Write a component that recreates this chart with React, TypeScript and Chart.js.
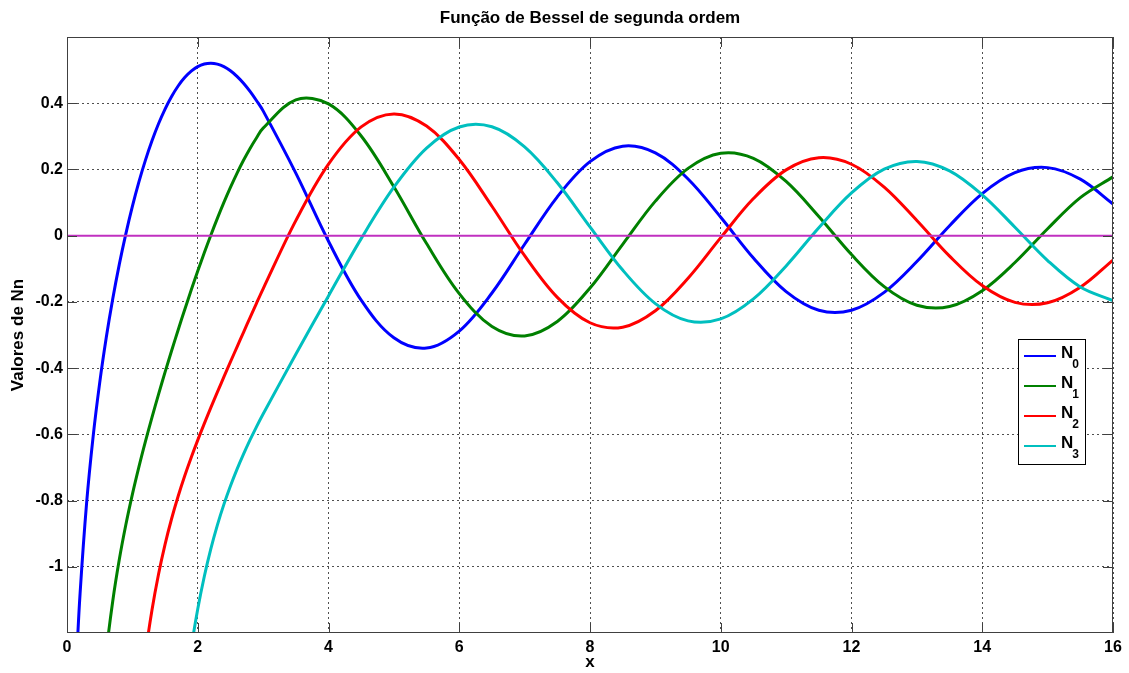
import React, { useEffect, useRef } from "react";
import { Chart, registerables } from "chart.js";

Chart.register(...registerables);

// Sample positions along x (finer where the curves are steep)
const X_VALUES = [
  0.1, 0.15, 0.2, 0.3, 0.4, 0.5, 0.6, 0.7, 0.8, 0.9, 1.0,
  1.1, 1.2, 1.3, 1.4, 1.5, 1.6, 1.7, 1.8, 1.9, 2.0,
  2.1, 2.2, 2.3, 2.4, 2.5, 2.6, 2.7, 2.8, 2.9, 3.0,
  3.5, 4.0, 4.5, 5.0, 5.5, 6.0, 6.5, 7.0, 7.5, 8.0, 8.5, 9.0, 9.5, 10.0,
  10.5, 11.0, 11.5, 12.0, 12.5, 13.0, 13.5, 14.0, 14.5, 15.0, 15.5, 16.0,
];

const N0 = [
  -1.5342, -1.2708, -1.0811, -0.8073, -0.606, -0.4445, -0.3085, -0.1907, -0.0868, 0.0056, 0.0883,
  0.1622, 0.2281, 0.2865, 0.3379, 0.3824, 0.4204, 0.452, 0.4774, 0.4968, 0.5104,
  0.5183, 0.5208, 0.5181, 0.5104, 0.4981, 0.4813, 0.4604, 0.4357, 0.4075, 0.3769,
  0.189, -0.0169, -0.1947, -0.3085, -0.3395, -0.2882, -0.1732, -0.026, 0.1173, 0.2235, 0.2702, 0.2499, 0.1712, 0.0557,
  -0.0675, -0.1689, -0.2252, -0.2252, -0.1712, -0.0781, 0.0301, 0.1271, 0.1903, 0.2055, 0.1706, 0.0958,
];

const N1 = [
  null, null, null, null, null, -1.4715, -1.2604, -1.1032, -0.9781, -0.8731, -0.7812,
  -0.6981, -0.6211, -0.5485, -0.4791, -0.4123, -0.3476, -0.2847, -0.2237, -0.1644, -0.107,
  -0.0517, 0.0014, 0.0522, 0.1005, 0.1459, 0.1884, 0.2276, 0.2635, 0.2959, 0.3247,
  0.4102, 0.3979, 0.301, 0.1479, -0.0238, -0.175, -0.2741, -0.3027, -0.2591, -0.1581, -0.0262, 0.1043, 0.2032, 0.249,
  0.2337, 0.1637, 0.0579, -0.0571, -0.1538, -0.21, -0.214, -0.1663, -0.081, 0.021, 0.1148, 0.1776,
];

const N2 = [
  null, null, null, null, null, null, null, null, null, null, null,
  -1.4315, -1.2633, -1.1304, -1.0224, -0.9322, -0.8549, -0.787, -0.7259, -0.6699, -0.6174,
  -0.5675, -0.5195, -0.4727, -0.4267, -0.3813, -0.3364, -0.2918, -0.2475, -0.2034, -0.1604,
  0.0454, 0.2159, 0.3285, 0.3677, 0.3309, 0.2299, 0.0889, -0.0605, -0.1864, -0.263, -0.2764, -0.2268, -0.1284, -0.0059,
  0.112, 0.1987, 0.2353, 0.2157, 0.1466, 0.0458, -0.0618, -0.1508, -0.2015, -0.2027, -0.1558, -0.0736,
];

const N3 = [
  null, null, null, null, null, null, null, null, null, null, null,
  null, null, null, null, null, null, null, -1.3896, -1.2459, -1.1278,
  -1.0293, -0.946, -0.8743, -0.8116, -0.7561, -0.7059, -0.6599, -0.617, -0.5765, -0.5385,
  -0.3583, -0.182, -0.009, 0.1463, 0.2644, 0.3282, 0.3288, 0.2681, 0.1597, 0.0265, -0.1039, -0.2051, -0.2573, -0.2514,
  -0.191, -0.0914, 0.0239, 0.129, 0.2008, 0.2241, 0.1957, 0.1232, 0.0255, -0.0751, -0.155, -0.196,
];

// Horizontal reference line at zero
const ZERO_X = [0, 16];
const ZERO_Y = [0, 0];

const X_TICKS = [0, 2, 4, 6, 8, 10, 12, 14, 16];
const X_TICK_LABELS = ["0", "2", "4", "6", "8", "10", "12", "14", "16"];
const Y_TICKS = [-1, -0.8, -0.6, -0.4, -0.2, 0, 0.2, 0.4];
const Y_TICK_LABELS = ["-1", "-0.8", "-0.6", "-0.4", "-0.2", "0", "0.2", "0.4"];

const SERIES = [N0, N1, N2, N3];
const SERIES_BASE = "N";
const SERIES_INDEX = ["0", "1", "2", "3"];
const SERIES_COLORS = ["#0000ff", "#008000", "#ff0000", "#00bfbf"];
const ZERO_COLOR = "#c030c0";

const TITLE = "Função de Bessel de segunda ordem";
const X_LABEL = "x";
const Y_LABEL = "Valores de Nn";

const FONT = "'Liberation Sans', Arial, Helvetica, sans-serif";
const AXIS_COLOR = "#404040";
const GRID_COLOR = "#505050";
const TICK_LEN = 10;

const decorations = {
  id: "decorations",
  afterDatasetsDraw(chart: any) {
    const { ctx, chartArea: a, scales } = chart;
    const xs = scales.x;
    const ys = scales.y;
    ctx.save();

    // axes box and inward tick marks
    ctx.strokeStyle = AXIS_COLOR;
    ctx.lineWidth = 1;
    ctx.beginPath();
    X_TICKS.forEach((v) => {
      const px = Math.round(xs.getPixelForValue(v)) + 0.5;
      ctx.moveTo(px, a.bottom);
      ctx.lineTo(px, a.bottom - TICK_LEN);
      ctx.moveTo(px, a.top);
      ctx.lineTo(px, a.top + TICK_LEN);
    });
    Y_TICKS.forEach((v) => {
      const py = Math.round(ys.getPixelForValue(v)) + 0.5;
      ctx.moveTo(a.left, py);
      ctx.lineTo(a.left + TICK_LEN, py);
      ctx.moveTo(a.right, py);
      ctx.lineTo(a.right - TICK_LEN, py);
    });
    ctx.stroke();
    ctx.strokeRect(a.left + 0.5, a.top + 0.5, a.right - a.left - 1, a.bottom - a.top - 1);

    // legend
    const bx = a.right - 95;
    const by = a.top + 302;
    const bw = 67;
    const bh = 125;
    ctx.fillStyle = "#ffffff";
    ctx.fillRect(bx, by, bw, bh);
    ctx.strokeStyle = "#000000";
    ctx.strokeRect(bx + 0.5, by + 0.5, bw, bh);
    SERIES_INDEX.forEach((sub, i) => {
      const ly = by + 17 + i * 30;
      ctx.strokeStyle = SERIES_COLORS[i];
      ctx.lineWidth = 2;
      ctx.beginPath();
      ctx.moveTo(bx + 6, ly);
      ctx.lineTo(bx + 38, ly);
      ctx.stroke();
      ctx.fillStyle = "#000000";
      ctx.textAlign = "left";
      ctx.textBaseline = "alphabetic";
      ctx.font = `bold 17px ${FONT}`;
      ctx.fillText(SERIES_BASE, bx + 43, ly + 1.5);
      const nw = ctx.measureText(SERIES_BASE).width;
      ctx.font = `bold 12px ${FONT}`;
      ctx.fillText(sub, bx + 43 + nw - 1, ly + 11.5);
    });
    ctx.restore();
  },
  afterDraw(chart: any) {
    const { ctx, chartArea: a } = chart;
    const cx = (a.left + a.right) / 2;
    const cy = (a.top + a.bottom) / 2;
    ctx.save();
    ctx.fillStyle = "#000000";
    ctx.textAlign = "center";
    ctx.textBaseline = "alphabetic";
    ctx.font = `bold 17px ${FONT}`;
    ctx.fillText(TITLE, cx, 23);
    ctx.fillText(X_LABEL, cx, 667);
    ctx.translate(18.5, cy);
    ctx.rotate(-Math.PI / 2);
    ctx.textBaseline = "middle";
    ctx.fillText(Y_LABEL, 0, 0);
    ctx.restore();
  },
};

export default function App() {
  const canvasRef = useRef<HTMLCanvasElement | null>(null);

  useEffect(() => {
    const canvas = canvasRef.current;
    if (!canvas) return;

    const curveSets = SERIES.map((values, i) => ({
      label: SERIES_BASE + SERIES_INDEX[i],
      data: X_VALUES.map((x, j) => ({ x, y: values[j] })),
      borderColor: SERIES_COLORS[i],
      backgroundColor: SERIES_COLORS[i],
      borderWidth: 3,
      pointRadius: 0,
      tension: 0.35,
      fill: false,
      order: 4 - i,
    }));

    const chart = new Chart(canvas, {
      type: "line",
      data: {
        datasets: [
          ...curveSets,
          {
            label: "zero",
            data: ZERO_X.map((x, j) => ({ x, y: ZERO_Y[j] })),
            borderColor: ZERO_COLOR,
            backgroundColor: ZERO_COLOR,
            borderWidth: 2,
            pointRadius: 0,
            tension: 0,
            fill: false,
            order: 0,
          },
        ],
      },
      options: {
        animation: false,
        responsive: false,
        devicePixelRatio: 1,
        elements: { line: { capBezierPoints: false } },
        layout: { padding: { top: 37, right: 16, left: 0, bottom: 0 } },
        plugins: {
          legend: { display: false },
          tooltip: { enabled: false },
          title: { display: false },
        },
        scales: {
          x: {
            type: "linear",
            min: 0,
            max: 16,
            afterBuildTicks: (s: any) => {
              s.ticks = X_TICKS.map((v) => ({ value: v }));
            },
            afterFit: (s: any) => {
              s.height = 40;
            },
            ticks: {
              autoSkip: false,
              maxRotation: 0,
              padding: 5,
              color: "#000000",
              font: { family: FONT, size: 16, weight: "bold" },
              callback: (_v: any, i: number) => X_TICK_LABELS[i],
            },
            grid: { color: GRID_COLOR, lineWidth: 1, drawTicks: false },
            border: { display: false, dash: [2, 3] },
          },
          y: {
            type: "linear",
            min: -1.2,
            max: 0.6,
            afterBuildTicks: (s: any) => {
              s.ticks = Y_TICKS.map((v) => ({ value: v }));
            },
            afterFit: (s: any) => {
              s.width = 67;
            },
            ticks: {
              autoSkip: false,
              padding: 4,
              color: "#000000",
              font: { family: FONT, size: 16, weight: "bold" },
              callback: (_v: any, i: number) => Y_TICK_LABELS[i],
            },
            grid: { color: GRID_COLOR, lineWidth: 1, drawTicks: false },
            border: { display: false, dash: [2, 3] },
          },
        },
      },
      plugins: [decorations],
    });

    return () => chart.destroy();
  }, []);

  return (
    <div style={{ position: "absolute", left: 0, top: 0, width: 1129, height: 673, background: "#ffffff" }}>
      <canvas ref={canvasRef} width={1129} height={673} style={{ display: "block", width: 1129, height: 673 }} />
    </div>
  );
}
